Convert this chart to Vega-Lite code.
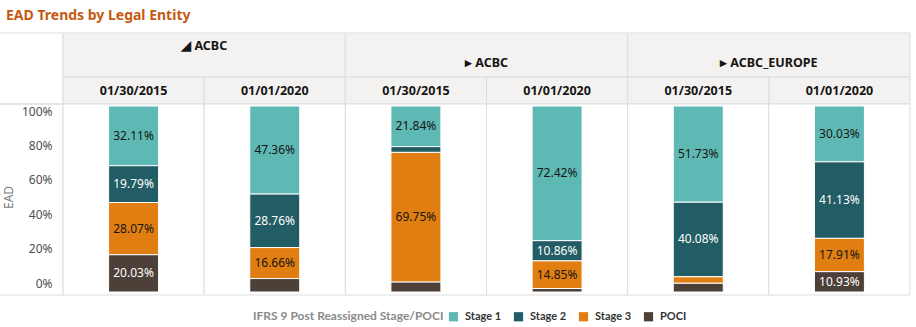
{
  "$schema": "https://vega.github.io/schema/vega-lite/v6.json",
  "width": 847,
  "height": 262,
  "autosize": {"type": "none"},
  "padding": {"left": 63, "top": 33, "right": 6, "bottom": 32},
  "background": "white",
  "title": {
    "text": "EAD Trends by Legal Entity",
    "anchor": "start",
    "frame": "group",
    "offset": 10,
    "dx": -57,
    "font": "Noto Sans",
    "fontSize": 14,
    "fontWeight": "bold",
    "color": "#c55a11"
  },
  "config": {
    "view": {"stroke": null},
    "font": "Noto Sans"
  },
  "datasets": {
    "ead": [
      {"entity": "e1", "col": "c1", "date": "01/30/2015", "stage": "Stage 1", "stageNo": 1, "pct": 0.3211},
      {"entity": "e1", "col": "c1", "date": "01/30/2015", "stage": "Stage 2", "stageNo": 2, "pct": 0.1979},
      {"entity": "e1", "col": "c1", "date": "01/30/2015", "stage": "Stage 3", "stageNo": 3, "pct": 0.2807},
      {"entity": "e1", "col": "c1", "date": "01/30/2015", "stage": "POCI", "stageNo": 4, "pct": 0.2003},
      {"entity": "e1", "col": "c2", "date": "01/01/2020", "stage": "Stage 1", "stageNo": 1, "pct": 0.4736},
      {"entity": "e1", "col": "c2", "date": "01/01/2020", "stage": "Stage 2", "stageNo": 2, "pct": 0.2876},
      {"entity": "e1", "col": "c2", "date": "01/01/2020", "stage": "Stage 3", "stageNo": 3, "pct": 0.1666},
      {"entity": "e1", "col": "c2", "date": "01/01/2020", "stage": "POCI", "stageNo": 4, "pct": 0.0722},
      {"entity": "e2", "col": "c3", "date": "01/30/2015", "stage": "Stage 1", "stageNo": 1, "pct": 0.2184},
      {"entity": "e2", "col": "c3", "date": "01/30/2015", "stage": "Stage 2", "stageNo": 2, "pct": 0.0310},
      {"entity": "e2", "col": "c3", "date": "01/30/2015", "stage": "Stage 3", "stageNo": 3, "pct": 0.6975},
      {"entity": "e2", "col": "c3", "date": "01/30/2015", "stage": "POCI", "stageNo": 4, "pct": 0.0531},
      {"entity": "e2", "col": "c4", "date": "01/01/2020", "stage": "Stage 1", "stageNo": 1, "pct": 0.7242},
      {"entity": "e2", "col": "c4", "date": "01/01/2020", "stage": "Stage 2", "stageNo": 2, "pct": 0.1086},
      {"entity": "e2", "col": "c4", "date": "01/01/2020", "stage": "Stage 3", "stageNo": 3, "pct": 0.1485},
      {"entity": "e2", "col": "c4", "date": "01/01/2020", "stage": "POCI", "stageNo": 4, "pct": 0.0187},
      {"entity": "e3", "col": "c5", "date": "01/30/2015", "stage": "Stage 1", "stageNo": 1, "pct": 0.5173},
      {"entity": "e3", "col": "c5", "date": "01/30/2015", "stage": "Stage 2", "stageNo": 2, "pct": 0.4008},
      {"entity": "e3", "col": "c5", "date": "01/30/2015", "stage": "Stage 3", "stageNo": 3, "pct": 0.0350},
      {"entity": "e3", "col": "c5", "date": "01/30/2015", "stage": "POCI", "stageNo": 4, "pct": 0.0469},
      {"entity": "e3", "col": "c6", "date": "01/01/2020", "stage": "Stage 1", "stageNo": 1, "pct": 0.3003},
      {"entity": "e3", "col": "c6", "date": "01/01/2020", "stage": "Stage 2", "stageNo": 2, "pct": 0.4113},
      {"entity": "e3", "col": "c6", "date": "01/01/2020", "stage": "Stage 3", "stageNo": 3, "pct": 0.1791},
      {"entity": "e3", "col": "c6", "date": "01/01/2020", "stage": "POCI", "stageNo": 4, "pct": 0.1093}
    ],
    "cols": [
      {"col": "c1", "date": "01/30/2015"},
      {"col": "c2", "date": "01/01/2020"},
      {"col": "c3", "date": "01/30/2015"},
      {"col": "c4", "date": "01/01/2020"},
      {"col": "c5", "date": "01/30/2015"},
      {"col": "c6", "date": "01/01/2020"}
    ],
    "entities": [
      {"entity": "e1", "label": "◢ ACBC", "state": "expanded"},
      {"entity": "e2", "label": "▸ ACBC", "state": "collapsed"},
      {"entity": "e3", "label": "▸ ACBC_EUROPE", "state": "collapsed"}
    ]
  },
  "layer": [
    {
      "data": {"values": [{"part": "corner header"}]},
      "mark": {"type": "rect", "fill": "transparent", "stroke": "#dddddd", "strokeWidth": 1},
      "encoding": {
        "x": {"datum": 0, "type": "quantitative", "scale": {"domain": [0, 1], "range": [-64, 0]}, "axis": null},
        "x2": {"datum": 1},
        "y": {"datum": 0, "type": "quantitative", "scale": {"domain": [0, 1], "range": [0, 71]}, "axis": null},
        "y2": {"datum": 1}
      }
    },
    {
      "data": {"values": [{"part": "corner body"}]},
      "mark": {"type": "rect", "fill": "transparent", "stroke": "#dddddd", "strokeWidth": 1},
      "encoding": {
        "x": {"datum": 0, "type": "quantitative", "scale": {"domain": [0, 1], "range": [-64, 0]}, "axis": null},
        "x2": {"datum": 1},
        "y": {"datum": 0, "type": "quantitative", "scale": {"domain": [0, 1], "range": [71, 262]}, "axis": null},
        "y2": {"datum": 1}
      }
    },
    {
      "data": {"name": "entities"},
      "layer": [
        {
          "mark": {"type": "rect", "fill": "#f3f2f1", "stroke": "#dddddd", "strokeWidth": 1},
          "encoding": {
            "x": {"field": "entity", "type": "nominal", "scale": {"paddingInner": 0, "paddingOuter": 0}, "axis": null},
            "y": {"datum": 0, "type": "quantitative", "scale": {"domain": [0, 1], "range": [0, 44]}, "axis": null},
            "y2": {"datum": 1}
          }
        },
        {
          "mark": {"type": "text", "fontWeight": "bold", "fontSize": 12.5, "color": "#161513"},
          "encoding": {
            "x": {"field": "entity", "type": "nominal", "axis": null},
            "y": {"field": "state", "type": "nominal", "scale": {"domain": ["expanded", "collapsed"], "range": [13, 30], "padding": 0}, "axis": null},
            "text": {"field": "label"}
          }
        }
      ],
      "resolve": {"scale": {"y": "independent"}}
    },
    {
      "data": {"name": "cols"},
      "layer": [
        {
          "mark": {"type": "rect", "fill": "#f3f2f1", "stroke": "#dddddd", "strokeWidth": 1},
          "encoding": {
            "x": {"field": "col", "type": "nominal", "scale": {"paddingInner": 0, "paddingOuter": 0}, "axis": null},
            "y": {"datum": 0, "type": "quantitative", "scale": {"domain": [0, 1], "range": [44, 71]}, "axis": null},
            "y2": {"datum": 1}
          }
        },
        {
          "mark": {"type": "text", "fontWeight": "bold", "fontSize": 12.5, "color": "#161513"},
          "encoding": {
            "x": {"field": "col", "type": "nominal", "axis": null},
            "y": {"datum": 0.5, "type": "quantitative"},
            "text": {"field": "date"}
          }
        }
      ]
    },
    {
      "data": {"name": "cols"},
      "mark": {"type": "rect", "fill": "white", "stroke": "#dddddd", "strokeWidth": 1},
      "encoding": {
        "x": {"field": "col", "type": "nominal", "scale": {"paddingInner": 0, "paddingOuter": 0}, "axis": null},
        "y": {"datum": 0, "type": "quantitative", "scale": {"domain": [0, 1], "range": [71, 262]}, "axis": null},
        "y2": {"datum": 1}
      }
    },
    {
      "data": {"name": "ead"},
      "layer": [
        {
          "mark": {"type": "bar", "width": {"band": 0.354}, "stroke": "white", "strokeWidth": 1},
          "encoding": {
            "x": {"field": "col", "type": "nominal", "scale": {"paddingInner": 0, "paddingOuter": 0}, "axis": null},
            "y": {"field": "pct", "type": "quantitative", "stack": "normalize", "scale": {"domain": [0, 1], "range": [259, 73]}, "axis": null},
            "order": {"field": "stageNo", "type": "quantitative", "sort": "descending"},
            "color": {
              "field": "stage",
              "type": "nominal",
              "sort": ["Stage 1", "Stage 2", "Stage 3", "POCI"],
              "scale": {"domain": ["Stage 1", "Stage 2", "Stage 3", "POCI"], "range": ["#5eb9b5", "#225c64", "#e07e12", "#4c4038"]},
              "legend": {
                "title": "IFRS 9 Post Reassigned Stage/POCI",
                "orient": "none",
                "legendX": 190,
                "legendY": 278,
                "direction": "horizontal",
                "titleOrient": "left",
                "titleFont": "Lato",
                "titleFontSize": 12,
                "titleFontWeight": "bold",
                "titleColor": "#8a8a8a",
                "titlePadding": 4,
                "titleLimit": 400,
                "labelFont": "Lato",
                "labelFontSize": 11,
                "labelFontWeight": "bold",
                "labelColor": "#333333",
                "labelOffset": 6,
                "symbolType": "square",
                "symbolSize": 85,
                "symbolStrokeWidth": 0,
                "columnPadding": 11
              }
            }
          }
        },
        {
          "mark": {"type": "text", "fontSize": 12},
          "encoding": {
            "x": {"field": "col", "type": "nominal", "axis": null},
            "y": {"field": "pct", "type": "quantitative", "stack": "normalize", "bandPosition": 0.5},
            "order": {"field": "stageNo", "type": "quantitative", "sort": "descending"},
            "detail": {"field": "stage"},
            "text": {"condition": {"test": "datum.pct >= 0.1", "field": "pct", "format": ".2%"}, "value": ""},
            "color": {"condition": {"test": "datum.stage === 'Stage 2' || datum.stage === 'POCI'", "value": "white"}, "value": "#161513"}
          }
        }
      ]
    },
    {
      "data": {"name": "ead"},
      "mark": {"type": "point", "opacity": 0},
      "encoding": {
        "y": {
          "field": "pct",
          "type": "quantitative",
          "scale": {"domain": [0, 1], "range": [250, 78]},
          "axis": {
            "orient": "left",
            "values": [0, 0.2, 0.4, 0.6, 0.8, 1],
            "format": ".0%",
            "ticks": false,
            "domain": false,
            "grid": false,
            "labelPadding": 11,
            "labelFont": "Noto Sans",
            "labelFontSize": 12,
            "labelColor": "#4f4f4f",
            "title": "EAD",
            "titleFont": "Noto Sans",
            "titleFontSize": 12,
            "titleFontWeight": "normal",
            "titleColor": "#7a7a7a",
            "titlePadding": 6,
            "zindex": 1
          }
        }
      }
    }
  ],
  "resolve": {"scale": {"x": "independent", "y": "independent"}}
}
